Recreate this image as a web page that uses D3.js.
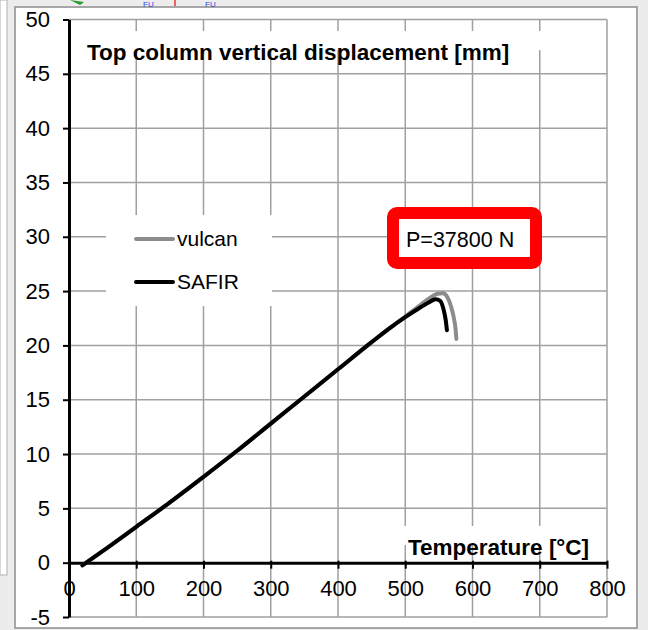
<!DOCTYPE html>
<html>
<head>
<meta charset="utf-8">
<script src="https://cdn.jsdelivr.net/npm/d3@7"></script>
<style>
  body { margin: 0; background: #fff; }
  svg { display: block; }
  text { font-family: Arial, "Liberation Sans", sans-serif; }
</style>
</head>
<body>
<svg id="chart" width="648" height="630"></svg>
<script>
// tick values
const tempTicks = [0, 100, 200, 300, 400, 500, 600, 700, 800];
const dispTicks = [-5, 0, 5, 10, 15, 20, 25, 30, 35, 40, 45, 50];

// SAFIR curve (black)
const safirTemp = [20, 60, 100, 150, 200, 250, 300, 350, 400, 450, 475, 500, 520, 535, 545, 552, 557, 560, 562];
const safirDisp = [-0.25, 1.5, 3.3, 5.55, 7.9, 10.3, 12.8, 15.3, 17.8, 20.3, 21.5, 22.6, 23.4, 23.95, 24.25, 24.1, 23.3, 22.4, 21.4];

// vulcan curve (grey)
const vulcanTemp = [20, 60, 100, 150, 200, 250, 300, 350, 400, 450, 475, 500, 520, 535, 548, 556, 563, 568, 572, 575, 576];
const vulcanDisp = [-0.25, 1.5, 3.3, 5.55, 7.9, 10.3, 12.8, 15.3, 17.8, 20.3, 21.5, 22.65, 23.6, 24.3, 24.75, 24.8, 24.4, 23.6, 22.6, 21.4, 20.6];

const seriesNames = ["vulcan", "SAFIR"];
const seriesColors = ["#8c8c8c", "#000000"];
const loadLabel = "P=37800 N";
const xTitle = "Temperature [°C]";
const yTitle = "Top column vertical displacement [mm]";

const svg = d3.select("#chart");

// surroundings of the captured chart
svg.append("rect").attr("width", 648).attr("height", 630).attr("fill", "#ececec");
svg.append("rect").attr("x", 0).attr("y", 0).attr("width", 7).attr("height", 575)
   .attr("fill", "#fff").attr("stroke", "#b0b0b0");
svg.append("rect").attr("x", 15).attr("y", 7).attr("width", 622).attr("height", 621)
   .attr("fill", "#fff").attr("stroke", "#a6a6a6").attr("stroke-width", 2);
svg.append("text").attr("x", 143).attr("y", 6.5).attr("fill", "#3344dd")
   .attr("font-size", 8).text("FU");
svg.append("text").attr("x", 205).attr("y", 6.5).attr("fill", "#3344dd")
   .attr("font-size", 8).text("FU");
svg.append("line").attr("x1", 175).attr("x2", 175).attr("y1", 0).attr("y2", 6)
   .attr("stroke", "#e33").attr("stroke-width", 1.5);
svg.append("path").attr("d", "M70,0 L84,2 L80,5 Z").attr("fill", "#2a9a2a");

const x = d3.scaleLinear().domain([0, 800]).range([69, 607]);
const y = d3.scaleLinear().domain([-5, 50]).range([617, 19.5]);

// gridlines
const grid = svg.append("g");
grid.selectAll("line.v")
    .data(tempTicks.filter(d => d > 0))
    .enter().append("line")
    .attr("x1", d => x(d)).attr("x2", d => x(d))
    .attr("y1", y(50)).attr("y2", y(-5))
    .attr("stroke", "#a0a0a0").attr("stroke-width", 1.5);
grid.selectAll("line.h")
    .data(dispTicks)
    .enter().append("line")
    .attr("x1", x(0)).attr("x2", x(800))
    .attr("y1", d => y(d)).attr("y2", d => y(d))
    .attr("stroke", "#a0a0a0").attr("stroke-width", 1.5);

// white boxes behind the axis titles and the legend
svg.append("rect").attr("x", 82).attr("y", 31).attr("width", 470).attr("height", 19).attr("fill", "#fff");
svg.append("rect").attr("x", 400).attr("y", 526).attr("width", 202).attr("height", 19).attr("fill", "#fff");
svg.append("rect").attr("x", 106).attr("y", 215).attr("width", 166).attr("height", 91).attr("fill", "#fff");

// axes
const yAxis = svg.append("g")
    .attr("transform", `translate(${x(0)},0)`)
    .call(d3.axisLeft(y).tickValues(dispTicks).tickFormat(d => String(d))
            .tickSize(6).tickSizeOuter(0).tickPadding(13));
yAxis.select(".domain").attr("stroke", "#000").attr("stroke-width", 3);
yAxis.selectAll(".tick line").attr("stroke", "#000").attr("stroke-width", 2);
yAxis.selectAll(".tick text").attr("font-size", 22).attr("fill", "#000")
     .attr("font-family", "Arial, 'Liberation Sans', sans-serif");

const xAxis = svg.append("g")
    .attr("transform", `translate(0,${y(0)})`)
    .call(d3.axisBottom(x).tickValues(tempTicks).tickFormat(d => String(d))
            .tickSize(6).tickSizeOuter(0).tickPadding(12));
xAxis.select(".domain").attr("stroke", "#000").attr("stroke-width", 3);
xAxis.selectAll(".tick line").attr("stroke", "#000").attr("stroke-width", 2).attr("y1", -2);
xAxis.selectAll(".tick text").attr("font-size", 22).attr("fill", "#000")
     .attr("font-family", "Arial, 'Liberation Sans', sans-serif");

// axis titles
svg.append("text").attr("x", 87).attr("y", 60)
   .attr("font-size", 22.5).attr("font-weight", "bold").text(yTitle);
svg.append("text").attr("x", 408).attr("y", 555)
   .attr("font-size", 22.5).attr("font-weight", "bold").text(xTitle);

// curves
const line = d3.line()
    .x(d => x(d[0]))
    .y(d => y(d[1]))
    .curve(d3.curveMonotoneX);

const vulcanData = d3.zip(vulcanTemp, vulcanDisp);
const safirData = d3.zip(safirTemp, safirDisp);

svg.append("path").datum(vulcanData)
   .attr("d", line).attr("fill", "none")
   .attr("stroke", seriesColors[0]).attr("stroke-width", 4).attr("stroke-linecap", "round");
svg.append("path").datum(safirData)
   .attr("d", line).attr("fill", "none")
   .attr("stroke", seriesColors[1]).attr("stroke-width", 4).attr("stroke-linecap", "round");

// legend
const legend = svg.append("g");
seriesNames.forEach((name, i) => {
    const ly = 239 + i * 43;
    legend.append("line").attr("x1", 136).attr("x2", 173).attr("y1", ly).attr("y2", ly)
          .attr("stroke", seriesColors[i]).attr("stroke-width", 4).attr("stroke-linecap", "round");
    legend.append("text").attr("x", 177).attr("y", ly + 7)
          .attr("font-size", 21).text(name);
});

// load box
svg.append("rect").attr("x", 393).attr("y", 213).attr("width", 143).attr("height", 50)
   .attr("rx", 4).attr("fill", "#fff").attr("stroke", "#ff0000").attr("stroke-width", 12);
svg.append("text").attr("x", 406).attr("y", 247)
   .attr("font-size", 21.5).text(loadLabel);
</script>
</body>
</html>
